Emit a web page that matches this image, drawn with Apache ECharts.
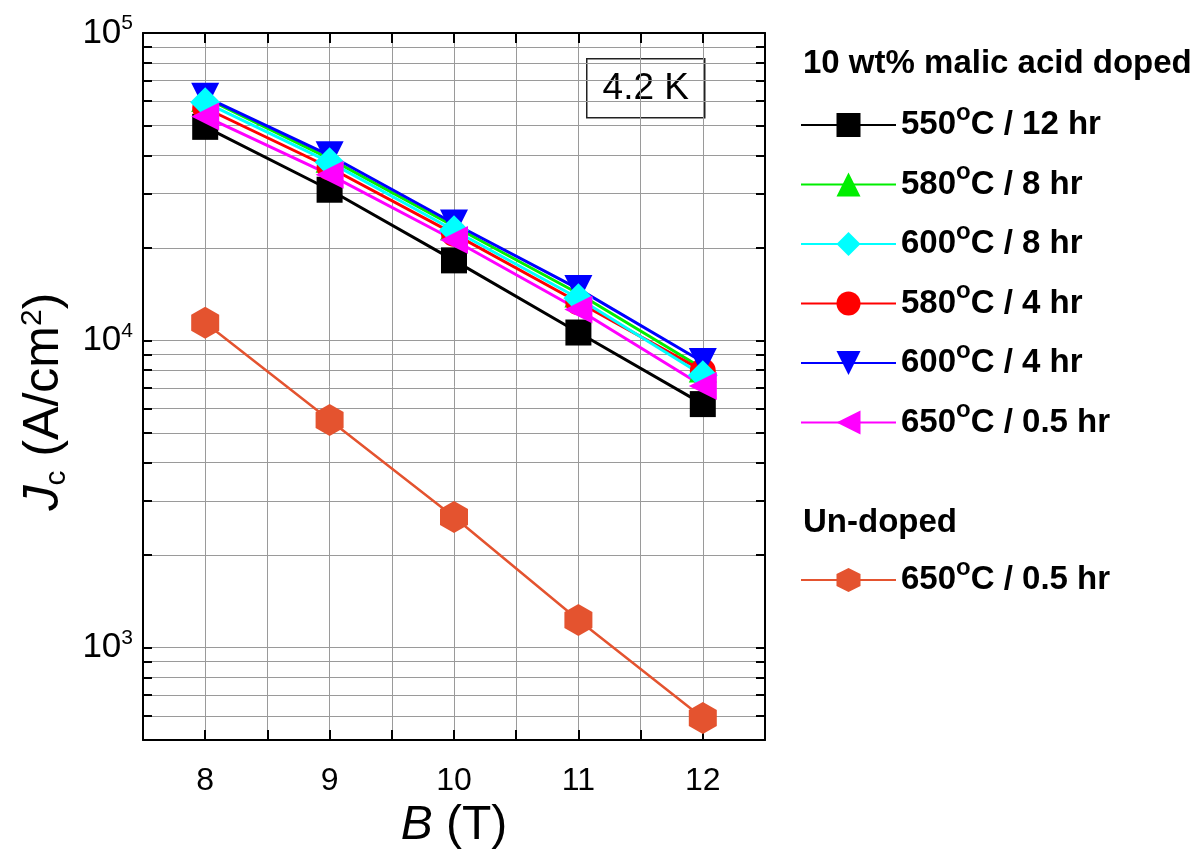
<!DOCTYPE html>
<html>
<head>
<meta charset="utf-8">
<script src="https://cdn.jsdelivr.net/npm/echarts@6/dist/echarts.min.js"></script>
<style>
html,body{margin:0;padding:0;background:#fff;}
#chart{width:1197px;height:855px;}
</style>
</head>
<body>
<div id="chart"></div>
<script>
// ---------------- data ----------------
const B = [8, 9, 10, 11, 12];
const xTickLabels = [8, 9, 10, 11, 12];
const yMajorTicks = [1000, 10000, 100000];
const yAllTicks = [500, 600, 700, 800, 900, 1000, 2000, 3000, 4000, 5000, 6000, 7000, 8000, 9000,
  10000, 20000, 30000, 40000, 50000, 60000, 70000, 80000, 90000, 100000];

const jc550_12 = [49500, 30900, 18200, 10600, 6200];
const jc580_8  = [61500, 39000, 23500, 14200, 8100];
const jc600_8  = [59500, 38000, 22800, 13700, 7700];
const jc580_4  = [57000, 36500, 22200, 13300, 7950];
const jc600_4  = [62000, 40000, 24000, 14700, 8500];
const jc650_05 = [53500, 34600, 21200, 12600, 7100];
const jcUndoped = [11400, 5500, 2660, 1230, 590];

const names = {
  s1: '550°C / 12 hr',
  s2: '580°C / 8 hr',
  s3: '600°C / 8 hr',
  s4: '580°C / 4 hr',
  s5: '600°C / 4 hr',
  s6: '650°C / 0.5 hr',
  u1: 'Un-doped 650°C / 0.5 hr'
};
const dopedTitle = '10 wt% malic acid doped';
const undopedTitle = 'Un-doped';
const tempLabel = '4.2 K';

// ---------------- chart ----------------
const FONT = '"Liberation Sans", Arial, Helvetica, sans-serif';
const chart = echarts.init(document.getElementById('chart'), null, {renderer: 'canvas'});

function pts(vals) { return B.map((b, i) => [b, vals[i]]); }
const hexagon = 'path://M50,0 L93.3,25 L93.3,75 L50,100 L6.7,75 L6.7,25 Z';

function lineSeries(name, vals, color, symbol, rotate, size, width) {
  return {
    type: 'line', name: name, data: pts(vals),
    symbol: symbol, symbolRotate: rotate || 0, symbolSize: size,
    showAllSymbol: true,
    lineStyle: {color: color, width: width},
    itemStyle: {color: color, opacity: 1},
    emphasis: {disabled: true},
    animation: false
  };
}

const series = [
  lineSeries(names.s1, jc550_12, '#000000', 'rect', 0, 26, 3),
  lineSeries(names.s2, jc580_8, '#00ee00', 'triangle', 0, 28, 3),
  lineSeries(names.s4, jc580_4, '#ff0000', 'circle', 0, 26, 3),
  lineSeries(names.s5, jc600_4, '#0000ff', 'triangle', 180, 28, 3),
  lineSeries(names.s3, jc600_8, '#00ffff', 'diamond', 0, 30, 3),
  lineSeries(names.s6, jc650_05, '#ff00ff', 'triangle', 90, 28, 3),
  lineSeries(names.u1, jcUndoped, '#e4532f', hexagon, 0, [28, 32], 2.5)
];

const legendRich = {
  t: {fontSize: 33, fontWeight: 'bold', fontFamily: FONT, color: '#000', lineHeight: 48},
  o: {fontSize: 24, fontWeight: 'bold', fontFamily: FONT, color: '#000', lineHeight: 24, verticalAlign: 'top'}
};
function legendFmt(name) {
  const label = name.replace('Un-doped ', '');
  const parts = label.split('°');
  return '{t|' + parts[0] + '}{o|o}{t|' + parts[1] + '}';
}
const legendBase = {
  orient: 'vertical', left: 800, itemWidth: 95, itemHeight: 30, itemGap: 19,
  selectedMode: false, formatter: legendFmt, padding: 0,
  textStyle: {fontSize: 33, fontWeight: 'bold', fontFamily: FONT, color: '#000', rich: legendRich}
};

const gridColor = '#9a9a9a';
const axisLineStyle = {color: '#000', width: 2};

const option = {
  backgroundColor: '#ffffff',
  animation: false,
  grid: {left: 143, top: 33, width: 622, height: 708, containLabel: false},
  xAxis: [
    {
      type: 'value', min: 7.5, max: 12.5, interval: 0.5, position: 'bottom',
      axisLine: {show: true, onZero: false, lineStyle: axisLineStyle},
      axisTick: {show: true, inside: true, length: 10, lineStyle: {color: '#000', width: 2}},
      splitLine: {show: true, lineStyle: {color: gridColor, width: 1}},
      axisLabel: {show: true, customValues: xTickLabels, margin: 25, fontSize: 32, fontFamily: FONT, color: '#000',
        formatter: v => String(v)},
      name: '{i|B}{n| (T)}', nameLocation: 'middle', nameGap: 50,
      nameTextStyle: {fontFamily: FONT, color: '#000', verticalAlign: 'top', rich: {
        i: {fontSize: 48, fontStyle: 'italic', fontFamily: FONT, color: '#000', lineHeight: 48},
        n: {fontSize: 48, fontFamily: FONT, color: '#000', lineHeight: 48}}}
    },
    {
      type: 'value', min: 7.5, max: 12.5, interval: 0.5, position: 'top',
      axisLine: {show: true, onZero: false, lineStyle: axisLineStyle},
      axisTick: {show: true, inside: true, length: 10, lineStyle: {color: '#000', width: 2}},
      splitLine: {show: false}, axisLabel: {show: false}
    }
  ],
  yAxis: [
    {
      type: 'log', logBase: 10, min: 500, max: 100000, position: 'left',
      axisLine: {show: true, onZero: false, lineStyle: axisLineStyle},
      axisTick: {show: true, inside: true, length: 9, customValues: yAllTicks, lineStyle: {color: '#000', width: 2}},
      splitLine: {show: true, lineStyle: {color: gridColor, width: 1}},
      minorSplitLine: {show: false},
      axisLabel: {show: true, customValues: yMajorTicks, margin: 10, fontFamily: FONT,
        formatter: v => '{b|10}{s|' + Math.round(Math.log10(v)) + '}',
        rich: {
          b: {fontSize: 35, fontFamily: FONT, color: '#000', lineHeight: 40},
          s: {fontSize: 21, fontFamily: FONT, color: '#000', lineHeight: 21, verticalAlign: 'top'}
        }},
      name: '{i|J}{c|c}{n| (A/cm}{p|2}{n|)}', nameLocation: 'middle', nameGap: 58, nameRotate: 90,
      nameTextStyle: {fontFamily: FONT, color: '#000', padding: [0, 30, 0, 0], rich: {
        i: {fontSize: 50, fontStyle: 'italic', fontFamily: FONT, color: '#000', lineHeight: 54},
        c: {fontSize: 30, fontFamily: FONT, color: '#000', lineHeight: 30, verticalAlign: 'bottom'},
        n: {fontSize: 50, fontFamily: FONT, color: '#000', lineHeight: 54},
        p: {fontSize: 30, fontFamily: FONT, color: '#000', lineHeight: 30, verticalAlign: 'top'}}}
    },
    {
      type: 'log', logBase: 10, min: 500, max: 100000, position: 'right',
      axisLine: {show: true, onZero: false, lineStyle: axisLineStyle},
      axisTick: {show: true, inside: true, length: 9, customValues: yAllTicks, lineStyle: {color: '#000', width: 2}},
      splitLine: {show: false}, axisLabel: {show: false}
    }
  ],
  legend: [
    Object.assign({}, legendBase, {
      top: 101,
      data: [names.s1, names.s2, names.s3, names.s4, names.s5, names.s6]
    }),
    Object.assign({}, legendBase, {
      top: 556,
      data: [names.u1]
    })
  ],
  graphic: [
    {type: 'text', left: 803, top: 47, z: 100,
      style: {text: dopedTitle, fontSize: 33, fontWeight: 'bold', fontFamily: FONT, fill: '#000'}},
    {type: 'text', left: 803, top: 506, z: 100,
      style: {text: undopedTitle, fontSize: 33, fontWeight: 'bold', fontFamily: FONT, fill: '#000'}},
    {type: 'group', left: 586, top: 58, z: 100, children: [
      {type: 'rect', shape: {x: 0, y: 0, width: 118, height: 59},
        style: {fill: '#fff', stroke: '#222', lineWidth: 1.5}},
      {type: 'text', x: 59, y: 30,
        style: {text: tempLabel, fontSize: 37, fontFamily: FONT, fill: '#000', align: 'center', verticalAlign: 'middle'}}
    ]}
  ],
  series: series
};
chart.setOption(option);
</script>
</body>
</html>
